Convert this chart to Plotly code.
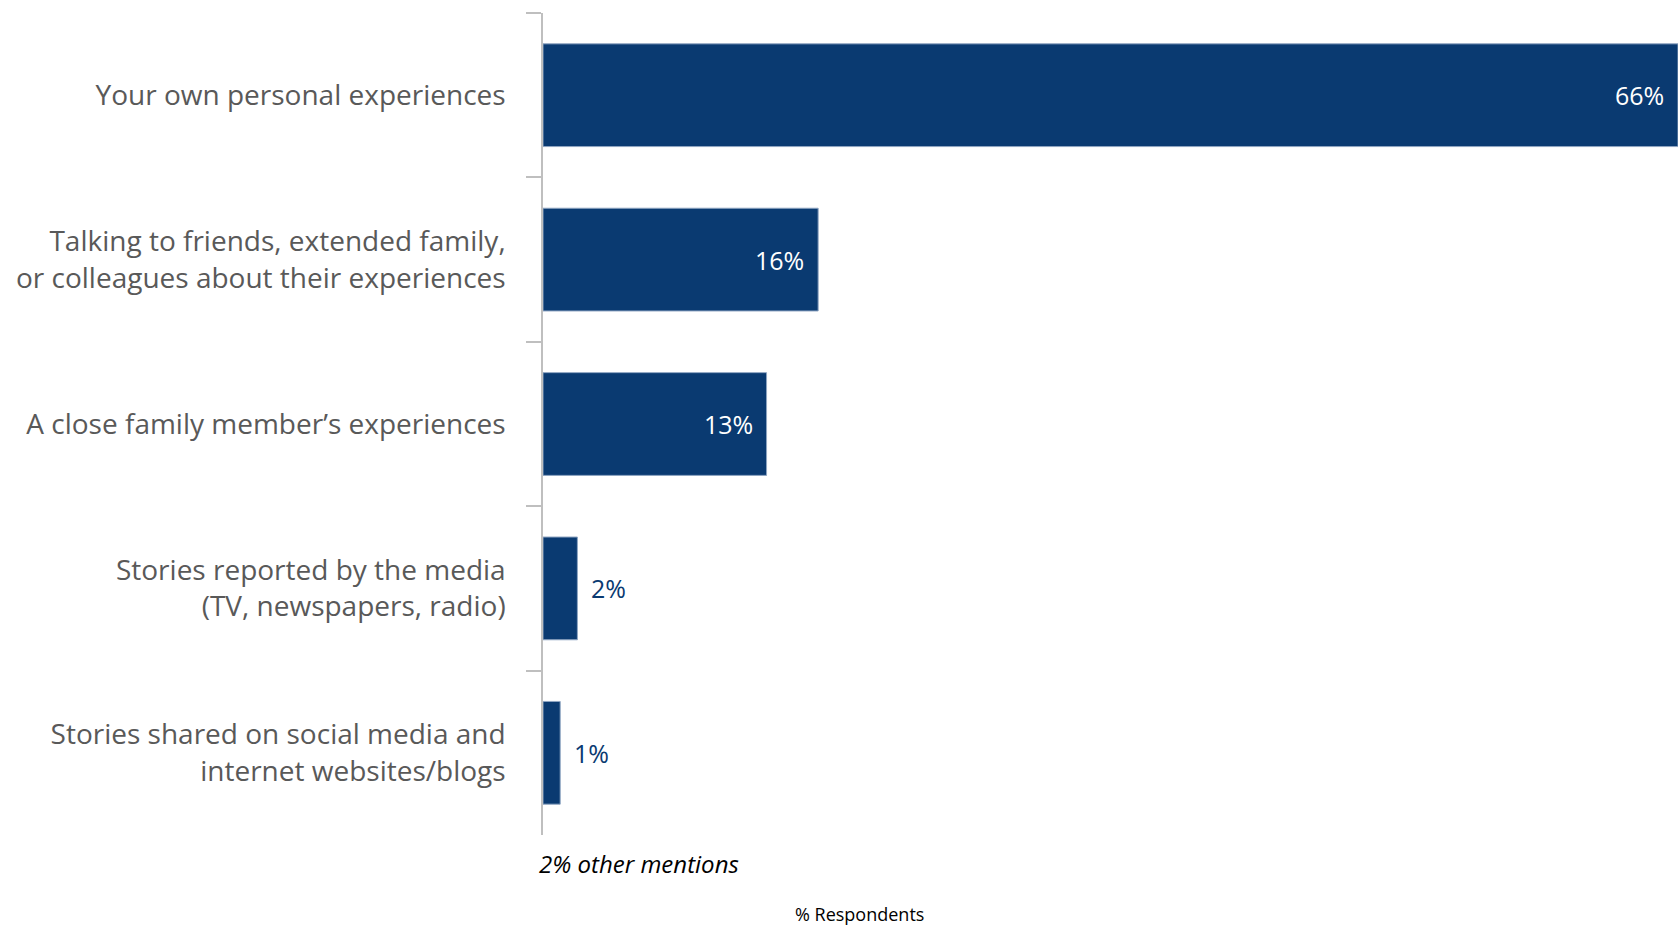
import plotly.graph_objects as go

categories = [
    "Your own personal experiences",
    "Talking to friends, extended family,<br>or colleagues about their experiences",
    "A close family member\u2019s experiences",
    "Stories reported by the media<br>(TV, newspapers, radio)",
    "Stories shared on social media and<br>internet websites/blogs",
]
values = [66, 16, 13, 2, 1]
value_labels = ["66%", "16%", "13%", "2%", "1%"]
footnote = "2% other mentions"
axis_title = "% Respondents"

NAVY = "#0A3A71"
FONT = "Open Sans"

fig = go.Figure()
fig.add_trace(go.Bar(
    y=categories,
    x=values,
    orientation="h",
    marker=dict(color=NAVY, line=dict(color="#8fa5c2", width=1)),
    hoverinfo="skip",
))

for cat, v, lab in zip(categories, values, value_labels):
    inside = v >= 5
    fig.add_annotation(
        x=v, y=cat, xref="x", yref="y",
        text=lab, showarrow=False,
        xanchor="right" if inside else "left",
        xshift=-12 if inside else 12,
        font=dict(family=FONT, size=25, color="white" if inside else NAVY),
    )

fig.add_annotation(
    x=0, y=0, xref="x", yref="paper", text=footnote, showarrow=False,
    xanchor="left", yanchor="middle", xshift=-6, yshift=-28,
    font=dict(family=FONT, size=24, color="black", style="italic"),
)
fig.add_annotation(
    x=0.279, y=0, xref="paper", yref="paper", text=axis_title, showarrow=False,
    xanchor="center", yanchor="middle", yshift=-79,
    font=dict(family=FONT, size=18, color="black"),
)

fig.update_layout(
    width=1678, height=926,
    margin=dict(l=543, r=0, t=13, b=91),
    paper_bgcolor="white", plot_bgcolor="white",
    bargap=0.375,
    showlegend=False,
    font=dict(family=FONT),
)
fig.update_xaxes(range=[0, 66], showticklabels=False, showgrid=False,
                 zeroline=False, showline=False, ticks="")
fig.update_yaxes(
    categoryorder="array", categoryarray=categories, autorange="reversed",
    showline=True, linecolor="#bfbfbf", linewidth=1.5,
    ticks="outside", tickson="boundaries", ticklen=15, tickcolor="#bfbfbf", tickwidth=1.5,
    ticklabelstandoff=30,
    tickfont=dict(family=FONT, size=28, color="#595959"),
    showgrid=False, zeroline=False,
)

fig.write_html(
    "out.html",
    config={"displayModeBar": False},
    post_script="document.body.style.margin='0';document.body.style.overflow='hidden';",
)
